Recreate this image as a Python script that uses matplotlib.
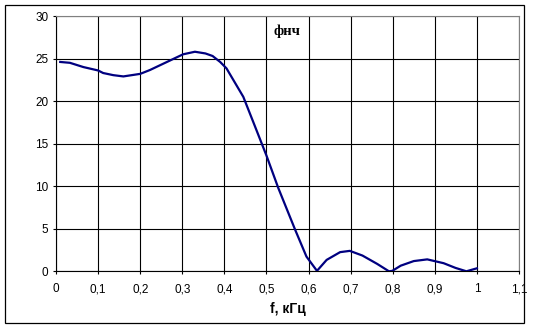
import matplotlib
matplotlib.use("Agg")
import matplotlib.pyplot as plt
from matplotlib.patches import Rectangle
from matplotlib.ticker import FuncFormatter

# frequency response
freq = [0.01, 0.033, 0.065, 0.1, 0.112, 0.136, 0.16, 0.2, 0.223, 0.255, 0.302, 0.33,
        0.355, 0.372, 0.39, 0.405, 0.445, 0.469, 0.5, 0.528, 0.568, 0.595, 0.62,
        0.643, 0.675, 0.698, 0.728, 0.763, 0.791, 0.799, 0.819, 0.85, 0.882, 0.921,
        0.949, 0.975, 1.0]
gain = [24.6, 24.5, 24.0, 23.6, 23.3, 23.05, 22.9, 23.2, 23.65, 24.4, 25.5, 25.8,
        25.6, 25.3, 24.6, 23.85, 20.5, 17.5, 13.6, 9.8, 4.9, 1.73, 0.05,
        1.34, 2.25, 2.4, 1.85, 0.87, 0.0, 0.05, 0.66, 1.2, 1.4, 0.95,
        0.4, 0.0, 0.35]

x_ticks = [0, 0.1, 0.2, 0.3, 0.4, 0.5, 0.6, 0.7, 0.8, 0.9, 1.0, 1.1]
y_ticks = [0, 5, 10, 15, 20, 25, 30]

plt.rcParams["font.family"] = ["Liberation Sans", "DejaVu Sans"]

fig = plt.figure(figsize=(5.34, 3.28), dpi=100)
ax = fig.add_axes([0.1049, 0.1729, 0.9719 - 0.1049, 0.9512 - 0.1729])

ax.plot(freq, gain, color="#000080", lw=1.6, zorder=3)

ax.set_xlim(0, 1.1)
ax.set_ylim(0, 30)
ax.set_xticks(x_ticks)
ax.set_yticks(y_ticks)
ax.xaxis.set_major_formatter(FuncFormatter(lambda v, p: f"{v:g}".replace(".", ",")))
ax.grid(True, color="black", lw=0.8)
ax.tick_params(labelsize=8.5, length=2.5, width=0.8, color="black")
ax.tick_params(axis="x", pad=6)
ax.tick_params(axis="y", pad=3)

for side in ["top", "right"]:
    ax.spines[side].set_color("#808080")
for side in ["left", "bottom"]:
    ax.spines[side].set_color("black")
for s in ax.spines.values():
    s.set_linewidth(0.8)

ax.set_xlabel("f, кГц", fontsize=10, fontweight="bold", labelpad=5)
ax.text(0.517, 28.2, "фнч", fontsize=10.5, fontweight="bold", family="Liberation Serif",
        ha="left", va="center")

# outer chart border
fig.patches.append(Rectangle((5 / 534, 5 / 328), 519 / 534, 318 / 328,
                             transform=fig.transFigure, fill=False,
                             edgecolor="black", lw=0.9))

fig.savefig("out.png", dpi=100)
